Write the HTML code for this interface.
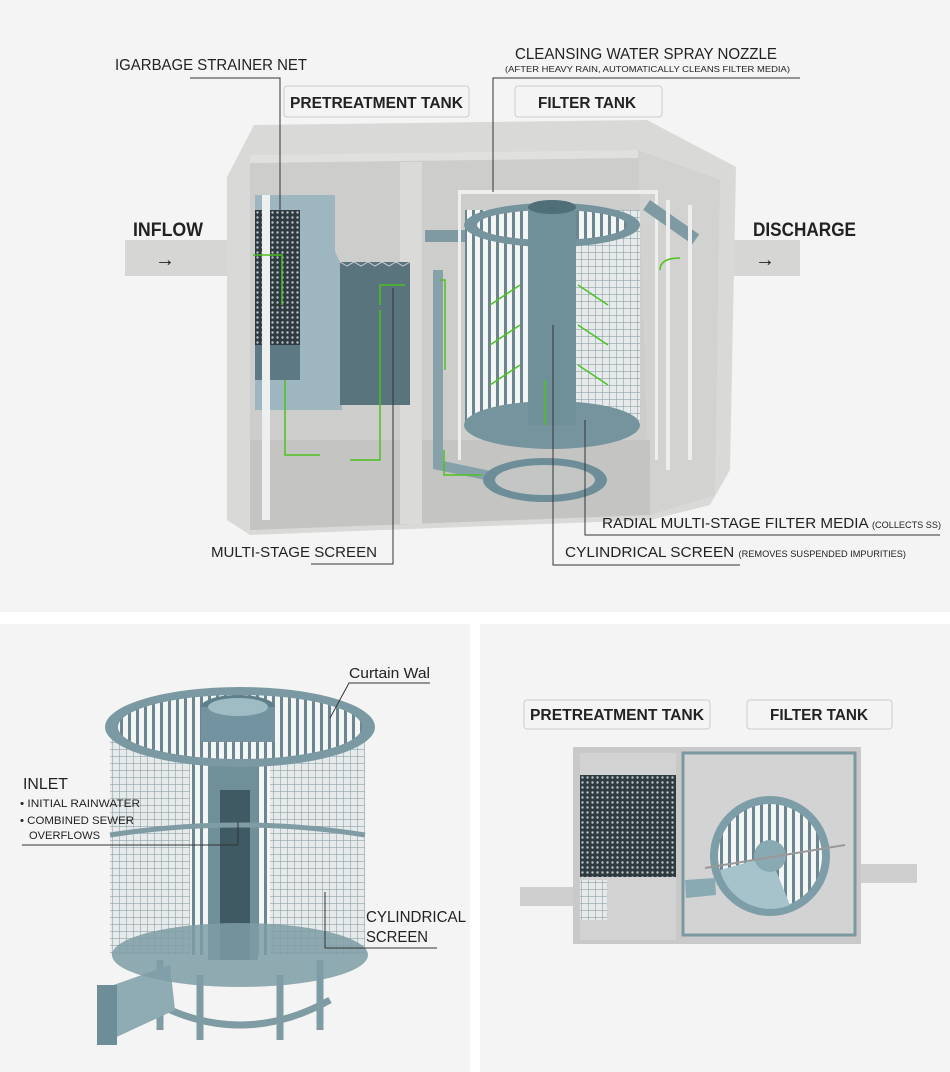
<!DOCTYPE html>
<html><head><meta charset="utf-8"><style>
html,body{margin:0;padding:0;background:#fff}
svg{display:block}
text{font-family:"Liberation Sans",sans-serif;fill:#222}
.b{font-weight:bold}
</style></head><body>
<svg width="950" height="1072" viewBox="0 0 950 1072" xmlns="http://www.w3.org/2000/svg">
<defs>
<pattern id="slat" width="8" height="10" patternUnits="userSpaceOnUse"><rect width="8" height="10" fill="#f4f6f6"/><rect width="3" height="10" fill="#6c8690"/></pattern>
<pattern id="grid" width="7" height="7" patternUnits="userSpaceOnUse"><rect width="7" height="7" fill="#e6eaeb"/><path d="M0 0H7M0 0V7" stroke="#8fa2a8" stroke-width="1.2"/></pattern>
<pattern id="mesh" width="5" height="5" patternUnits="userSpaceOnUse"><rect width="5" height="5" fill="#2e3a40"/><circle cx="2.5" cy="2.5" r="1.2" fill="#b8c6ca"/></pattern>
</defs>
<rect x="0" y="0" width="950" height="612" fill="#f4f4f4"/>
<rect x="0" y="624" width="470" height="448" fill="#f4f4f4"/>
<rect x="480" y="624" width="470" height="448" fill="#f4f4f4"/>

<!-- TOP TANK -->
<rect x="125" y="240" width="120" height="36" fill="#d6d6d4"/>
<rect x="725" y="240" width="75" height="36" fill="#d6d6d4"/>
<polygon points="254,125 647,120 736,167 730,470 710,505 650,520 250,535 227,520 227,177" fill="#d9d9d7"/>
<polygon points="250,155 638,150 650,155 650,515 250,530" fill="#cdcecc"/>
<polygon points="638,150 720,180 715,495 650,515" fill="#d2d2d0"/>
<polygon points="250,440 650,440 650,515 250,530" fill="#c4c5c3"/>
<rect x="400" y="162" width="22" height="362" fill="#dadad8"/>
<polygon points="250,155 638,150 638,158 250,163" fill="#e0e0de"/>
<rect x="255" y="195" width="80" height="215" fill="#9db6bf"/>
<path d="M335 195 Q320 230 342 265 L342 410 L335 410Z" fill="#9db6bf"/>
<rect x="255" y="210" width="45" height="170" fill="url(#mesh)"/>
<rect x="255" y="345" width="45" height="35" fill="#5d7a84"/>
<rect x="262" y="195" width="8" height="325" fill="#eef0f0"/>
<path d="M340 262 L410 262 L410 405 L340 405 Z" fill="#5a747e"/>
<path d="M340 262 l7 4 l7 -4 l7 4 l7 -4 l7 4 l7 -4 l7 4 l7 -4 l7 4 l7 -4" stroke="#ccc" fill="none"/>
<rect x="425" y="230" width="60" height="12" fill="#7f9aa3"/>
<path d="M438 270 L438 465 L500 478" stroke="#86a1aa" stroke-width="10" fill="none"/>
<rect x="458" y="190" width="200" height="4" fill="#eee"/>
<rect x="458" y="190" width="3" height="270" fill="#eee"/>
<rect x="655" y="190" width="3" height="270" fill="#eee"/>
<ellipse cx="545" cy="480" rx="62" ry="22" fill="#6d8e99"/>
<ellipse cx="545" cy="480" rx="50" ry="15" fill="#c3c6c4"/>
<rect x="465" y="210" width="175" height="215" fill="url(#slat)"/>
<rect x="575" y="210" width="65" height="215" fill="url(#grid)"/>
<ellipse cx="552" cy="225" rx="88" ry="22" fill="#76949e"/>
<ellipse cx="552" cy="225" rx="75" ry="15" fill="url(#slat)"/>
<ellipse cx="552" cy="425" rx="88" ry="24" fill="#76949e"/>
<rect x="528" y="205" width="48" height="220" fill="#6f8f99"/>
<ellipse cx="552" cy="207" rx="24" ry="7" fill="#4e6e78"/>
<rect x="650" y="200" width="60" height="12" fill="#7f9aa3" transform="rotate(35 650 200)"/>
<path d="M668 200 L668 470 M690 205 L690 460" stroke="#eee" stroke-width="4" fill="none"/>
<g stroke="#4cc21e" stroke-width="1.5" fill="none">
<path d="M253 255 H282 V305"/><path d="M285 380 V455 H320"/><path d="M350 460 H380 V310"/><path d="M380 305 V285 H405"/>
<path d="M440 280 H445 V370"/><path d="M444 450 V475 H482"/><path d="M545 425 V380"/>
<path d="M520 285 L490 305"/><path d="M520 325 L490 345"/><path d="M520 365 L490 385"/>
<path d="M578 285 L608 305"/><path d="M578 325 L608 345"/><path d="M578 365 L608 385"/>
<path d="M660 270 Q660 258 680 258"/>
</g>
<text x="115" y="70" font-size="16" textLength="192" lengthAdjust="spacingAndGlyphs">IGARBAGE STRAINER NET</text>
<path d="M190 78 H280 V225" stroke="#333" fill="none"/>
<rect x="284" y="86" width="185" height="31" rx="3" fill="#f4f4f4" stroke="#ccc"/>
<text x="290" y="108" font-size="16" class="b" textLength="173" lengthAdjust="spacingAndGlyphs">PRETREATMENT TANK</text>
<rect x="515" y="86" width="147" height="31" rx="3" fill="#f4f4f4" stroke="#ccc"/>
<text x="538" y="108" font-size="16" class="b" textLength="98" lengthAdjust="spacingAndGlyphs">FILTER TANK</text>
<text x="515" y="59" font-size="16" textLength="262" lengthAdjust="spacingAndGlyphs">CLEANSING WATER SPRAY NOZZLE</text>
<text x="505" y="72" font-size="8.5" textLength="285" lengthAdjust="spacingAndGlyphs">(AFTER HEAVY RAIN, AUTOMATICALLY CLEANS FILTER MEDIA)</text>
<path d="M800 78 H493 V192" stroke="#333" fill="none"/>
<text x="133" y="236" font-size="19" class="b" textLength="70" lengthAdjust="spacingAndGlyphs">INFLOW</text>
<text x="753" y="236" font-size="19" class="b" textLength="103" lengthAdjust="spacingAndGlyphs">DISCHARGE</text>
<text x="155" y="266" font-size="20">→</text>
<text x="755" y="266" font-size="20">→</text>
<text x="602" y="528" font-size="15" textLength="339" lengthAdjust="spacingAndGlyphs">RADIAL MULTI-STAGE FILTER MEDIA <tspan font-size="9">(COLLECTS SS)</tspan></text>
<path d="M585 420 V535 H940" stroke="#333" fill="none"/>
<text x="565" y="557" font-size="15" textLength="341" lengthAdjust="spacingAndGlyphs">CYLINDRICAL SCREEN <tspan font-size="9">(REMOVES SUSPENDED IMPURITIES)</tspan></text>
<path d="M553 325 V565 H740" stroke="#333" fill="none"/>
<text x="211" y="557" font-size="15" textLength="166" lengthAdjust="spacingAndGlyphs">MULTI-STAGE SCREEN</text>
<path d="M311 564 H393 V288" stroke="#333" fill="none"/>

<!-- BOTTOM LEFT -->
<path d="M160 960 L160 1030 M320 960 L320 1030 M200 975 V1040 M280 975 V1040" stroke="#7f9ca5" stroke-width="7"/>
<path d="M150 1000 Q240 1050 330 1000" stroke="#7f9ca5" stroke-width="7" fill="none"/>
<polygon points="105,988 170,965 175,1010 110,1040" fill="#8fabb3"/>
<rect x="97" y="985" width="20" height="60" fill="#6d8e99"/>
<rect x="110" y="740" width="255" height="215" fill="url(#grid)"/>
<rect x="190" y="740" width="80" height="215" fill="url(#slat)"/>
<rect x="208" y="740" width="50" height="220" fill="#6f8f99"/>
<rect x="220" y="790" width="30" height="170" fill="#3f5a63"/>
<ellipse cx="240" cy="955" rx="128" ry="32" fill="#7e9ca6" opacity=".85"/>
<ellipse cx="240" cy="727" rx="135" ry="40" fill="#7a99a3"/>
<ellipse cx="240" cy="727" rx="122" ry="32" fill="url(#slat)"/>
<ellipse cx="238" cy="707" rx="37" ry="12" fill="#5f808a"/>
<rect x="201" y="707" width="74" height="35" fill="#7393a0"/>
<ellipse cx="238" cy="707" rx="30" ry="9" fill="#9fbcc4"/>
<path d="M110 835 Q240 815 365 835" stroke="#7f9ca5" stroke-width="5" fill="none"/>
<text x="349" y="678" font-size="15" textLength="81" lengthAdjust="spacingAndGlyphs">Curtain Wal</text>
<path d="M430 683 H349 L330 718" stroke="#333" fill="none"/>
<text x="23" y="789" font-size="16" textLength="45" lengthAdjust="spacingAndGlyphs">INLET</text>
<text x="20" y="807" font-size="11" textLength="120" lengthAdjust="spacingAndGlyphs">• INITIAL RAINWATER</text>
<text x="20" y="824" font-size="11" textLength="114" lengthAdjust="spacingAndGlyphs">• COMBINED SEWER</text>
<text x="29" y="839" font-size="11" textLength="71" lengthAdjust="spacingAndGlyphs">OVERFLOWS</text>
<path d="M22 845 H238 V822" stroke="#333" fill="none"/>
<text x="366" y="922" font-size="16" textLength="100" lengthAdjust="spacingAndGlyphs">CYLINDRICAL</text>
<text x="366" y="942" font-size="16" textLength="62" lengthAdjust="spacingAndGlyphs">SCREEN</text>
<path d="M437 948 H325 V892" stroke="#333" fill="none"/>

<!-- BOTTOM RIGHT -->
<rect x="524" y="700" width="186" height="29" rx="3" fill="#f4f4f4" stroke="#ccc"/>
<text x="530" y="720" font-size="16" class="b" textLength="174" lengthAdjust="spacingAndGlyphs">PRETREATMENT TANK</text>
<rect x="747" y="700" width="145" height="29" rx="3" fill="#f4f4f4" stroke="#ccc"/>
<text x="770" y="720" font-size="16" class="b" textLength="98" lengthAdjust="spacingAndGlyphs">FILTER TANK</text>
<rect x="520" y="887" width="55" height="19" fill="#cfcfcf"/>
<rect x="859" y="864" width="58" height="19" fill="#cfcfcf"/>
<rect x="573" y="747" width="288" height="197" fill="#c9c9c9"/>
<rect x="580" y="753" width="96" height="187" fill="#d2d2d2"/>
<rect x="580" y="775" width="96" height="102" fill="url(#mesh)"/>
<rect x="580" y="880" width="27" height="40" fill="url(#grid)"/>
<rect x="683" y="753" width="172" height="182" fill="#d3d3d3" stroke="#7b98a1" stroke-width="3"/>
<circle cx="770" cy="856" r="60" fill="#7d9ea8"/>
<circle cx="770" cy="856" r="52" fill="url(#slat)"/>
<path d="M770 856 L720 870 A52 52 0 0 0 790 905Z" fill="#a6c3cb"/>
<circle cx="770" cy="856" r="16" fill="#8aaab3"/>
<path d="M705 868 L845 845" stroke="#999" stroke-width="2"/>
<polygon points="685,880 715,878 716,895 686,898" fill="#8aaab3"/>
</svg>
</body></html>
